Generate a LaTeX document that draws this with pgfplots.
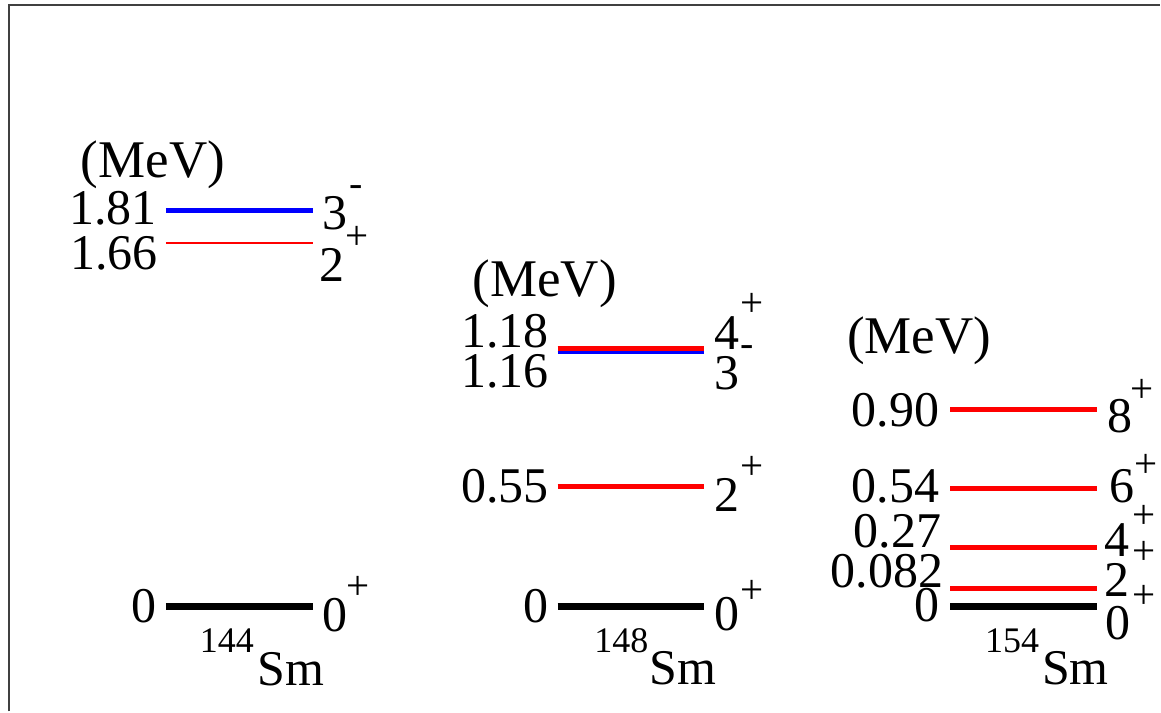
\documentclass[border=0pt]{standalone}
\usepackage{pgfplots}
\pgfplotsset{compat=1.18}
\usepackage{fontspec}
\setmainfont{Liberation Serif}
\newcommand{\py}[1]{(607-#1)/219}
\newcommand{\bigf}{\fontsize{50}{58}\selectfont}
\newcommand{\mevf}{\fontsize{53}{60}\selectfont}
\newcommand{\sml}{\fontsize{36}{42}\selectfont}
\newcommand{\sgf}{\fontsize{41}{48}\selectfont}
\newcommand{\mns}{\fontsize{40}{46}\selectfont}
\tikzset{
  T/.style={inner sep=0pt, outer sep=0pt, font=\bigf},
  U/.style={inner sep=0pt, outer sep=0pt, font=\mevf, anchor=base west},
  S/.style={inner sep=0pt, outer sep=0pt, font=\sml},
  P/.style={inner sep=0pt, outer sep=0pt, font=\sgf, anchor=center},
  M/.style={inner sep=0pt, outer sep=0pt, font=\mns, anchor=center},
}
\begin{document}
\begin{tikzpicture}
\begin{axis}[
  scale only axis, width=1161pt, height=712pt,
  xmin=0, xmax=1161, ymin=-0.47945, ymax=2.77169,
  hide axis, clip=false,
]
% frame
\addplot[black!75, line width=2pt] coordinates {(9,-0.47945) (9,{\py{5}}) (1161,{\py{5}})};
% 144Sm
\addplot[red, line width=2pt] coordinates {(166,1.66) (313,1.66)};
\addplot[blue, line width=5.5pt] coordinates {(166,1.81) (313,1.81)};
\addplot[black, line width=6.5pt] coordinates {(166,0) (313,0)};
% 148Sm
\addplot[blue, line width=2.5pt] coordinates {(558,1.16) (705,1.16)};
\addplot[red, line width=4.5pt] coordinates {(558,1.18) (705,1.18)};
\addplot[red, line width=5pt] coordinates {(558,0.55) (705,0.55)};
\addplot[black, line width=6.5pt] coordinates {(558,0) (705,0)};
% 154Sm
\addplot[red, line width=5pt] coordinates {(951,0.90) (1098,0.90)};
\addplot[red, line width=5pt] coordinates {(951,0.54) (1098,0.54)};
\addplot[red, line width=5pt] coordinates {(951,0.27) (1098,0.27)};
\addplot[red, line width=5pt] coordinates {(951,0.082) (1098,0.082)};
\addplot[black, line width=6.5pt] coordinates {(951,0) (1098,0)};

\path (axis cs:0,-0.47945) rectangle (axis cs:1161,2.77169);

% labels panel 1
\node[U] at (axis cs:81,{\py{178}}) {(MeV)};
\node[T,anchor=base east] at (axis cs:157,{\py{225}}) {1.81};
\node[T,anchor=base east] at (axis cs:158,{\py{270}}) {1.66};
\node[T,anchor=base west] at (axis cs:323,{\py{230}}) {3};
\node[M] at (axis cs:356,{\py{191}}) {-};
\node[T,anchor=base west] at (axis cs:320,{\py{282}}) {2};
\node[P] at (axis cs:357,{\py{238}}) {+};
\node[T,anchor=base east] at (axis cs:157,{\py{623}}) {0};
\node[T,anchor=base west] at (axis cs:323,{\py{632}}) {0};
\node[P] at (axis cs:358,{\py{588}}) {+};
\node[S,anchor=base west] at (axis cs:200,{\py{653}}) {144};
\node[T,anchor=base west] at (axis cs:258,{\py{686}}) {Sm};
% labels panel 2
\node[U] at (axis cs:473,{\py{297}}) {(MeV)};
\node[T,anchor=base east] at (axis cs:549,{\py{348}}) {1.18};
\node[T,anchor=base east] at (axis cs:549,{\py{388}}) {1.16};
\node[T,anchor=base west] at (axis cs:715,{\py{350}}) {4};
\node[P] at (axis cs:753,{\py{305}}) {+};
\node[T,anchor=base west] at (axis cs:715,{\py{390}}) {3};
\node[M] at (axis cs:748,{\py{351}}) {-};
\node[T,anchor=base east] at (axis cs:549,{\py{503}}) {0.55};
\node[T,anchor=base west] at (axis cs:715,{\py{512}}) {2};
\node[P] at (axis cs:753,{\py{468}}) {+};
\node[T,anchor=base east] at (axis cs:549,{\py{623}}) {0};
\node[T,anchor=base west] at (axis cs:715,{\py{631}}) {0};
\node[P] at (axis cs:753,{\py{592}}) {+};
\node[S,anchor=base west] at (axis cs:595,{\py{653}}) {148};
\node[T,anchor=base west] at (axis cs:650,{\py{685}}) {Sm};
% labels panel 3
\node[U] at (axis cs:848,{\py{354}}) {(MeV)};
\node[T,anchor=base east] at (axis cs:940,{\py{427}}) {0.90};
\node[T,anchor=base west] at (axis cs:1108,{\py{433}}) {8};
\node[P] at (axis cs:1143,{\py{391}}) {+};
\node[T,anchor=base east] at (axis cs:940,{\py{503}}) {0.54};
\node[T,anchor=base west] at (axis cs:1110,{\py{503}}) {6};
\node[P] at (axis cs:1147,{\py{466}}) {+};
\node[T,anchor=base east] at (axis cs:942,{\py{548}}) {0.27};
\node[T,anchor=base west] at (axis cs:1105,{\py{557}}) {4};
\node[P] at (axis cs:1145,{\py{517}}) {+};
\node[T,anchor=base east] at (axis cs:944,{\py{588}}) {0.082};
\node[T,anchor=base west] at (axis cs:1105,{\py{597}}) {2};
\node[P] at (axis cs:1145,{\py{553}}) {+};
\node[T,anchor=base east] at (axis cs:940,{\py{622}}) {0};
\node[T,anchor=base west] at (axis cs:1106,{\py{640}}) {0};
\node[P] at (axis cs:1145,{\py{597}}) {+};
\node[S,anchor=base west] at (axis cs:986,{\py{653}}) {154};
\node[T,anchor=base west] at (axis cs:1043,{\py{685}}) {Sm};
\end{axis}
\end{tikzpicture}
\end{document}
